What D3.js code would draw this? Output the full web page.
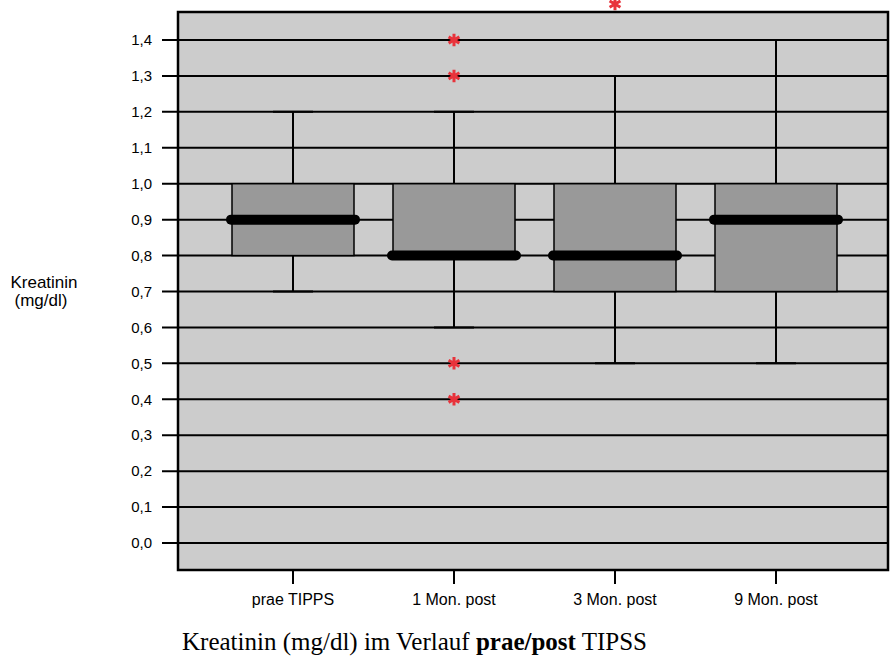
<!DOCTYPE html>
<html>
<head>
<meta charset="utf-8">
<script src="https://cdn.jsdelivr.net/npm/d3@7"></script>
<style>
  html, body { margin: 0; padding: 0; background: #fff; }
  svg { display: block; }
</style>
</head>
<body>
<script>
// Kreatinin box plots per time point
const categories = ["prae TIPPS", "1 Mon. post", "3 Mon. post", "9 Mon. post"];
const whiskerLow  = [0.7, 0.6, 0.5, 0.5];
const quartile1   = [0.8, 0.8, 0.7, 0.7];
const medians     = [0.9, 0.8, 0.8, 0.9];
const quartile3   = [1.0, 1.0, 1.0, 1.0];
const whiskerHigh = [1.2, 1.2, 1.3, 1.4];
const outliers    = [[], [0.4, 0.5, 1.3, 1.4], [1.5], []];
const yTicks      = [0, 0.1, 0.2, 0.3, 0.4, 0.5, 0.6, 0.7, 0.8, 0.9, 1.0, 1.1, 1.2, 1.3, 1.4];

const W = 893, H = 662;
const frame = { left: 178, right: 888, top: 12, bottom: 570 };
const sans = "Liberation Sans, Arial, sans-serif";

const svg = d3.select("body").append("svg").attr("width", W).attr("height", H);

const y = d3.scaleLinear().domain([0, 1.4]).range([543, 40]);
const x = d3.scalePoint().domain(categories).range([293, 776]);

const fmt = d => d3.format(".1f")(d).replace(".", ",");

// plot area
svg.append("rect")
  .attr("x", frame.left).attr("y", frame.top)
  .attr("width", frame.right - frame.left).attr("height", frame.bottom - frame.top)
  .attr("fill", "#cccccc");

// gridlines with outer tick marks
svg.append("g").selectAll("line").data(yTicks).join("line")
  .attr("x1", frame.left - 16).attr("x2", frame.right)
  .attr("y1", d => y(d)).attr("y2", d => y(d))
  .attr("stroke", "#000").attr("stroke-width", 2);

// y tick labels
svg.append("g").selectAll("text").data(yTicks).join("text")
  .attr("x", 152).attr("y", d => y(d))
  .attr("dy", "0.35em").attr("text-anchor", "end")
  .attr("font-family", sans).attr("font-size", 15)
  .text(fmt);

// boxes
const boxW = 122, capW = 40;
const g = svg.append("g").selectAll("g").data(categories).join("g");

g.append("line")
  .attr("x1", d => x(d)).attr("x2", d => x(d))
  .attr("y1", (d, i) => y(whiskerLow[i])).attr("y2", (d, i) => y(quartile1[i]))
  .attr("stroke", "#000").attr("stroke-width", 2);
g.append("line")
  .attr("x1", d => x(d)).attr("x2", d => x(d))
  .attr("y1", (d, i) => y(quartile3[i])).attr("y2", (d, i) => y(whiskerHigh[i]))
  .attr("stroke", "#000").attr("stroke-width", 2);
g.append("line")
  .attr("x1", d => x(d) - capW / 2).attr("x2", d => x(d) + capW / 2)
  .attr("y1", (d, i) => y(whiskerLow[i])).attr("y2", (d, i) => y(whiskerLow[i]))
  .attr("stroke", "#000").attr("stroke-width", 2);
g.append("line")
  .attr("x1", d => x(d) - capW / 2).attr("x2", d => x(d) + capW / 2)
  .attr("y1", (d, i) => y(whiskerHigh[i])).attr("y2", (d, i) => y(whiskerHigh[i]))
  .attr("stroke", "#000").attr("stroke-width", 2);

g.append("rect")
  .attr("x", d => x(d) - boxW / 2).attr("width", boxW)
  .attr("y", (d, i) => y(quartile3[i]))
  .attr("height", (d, i) => y(quartile1[i]) - y(quartile3[i]))
  .attr("fill", "#999999").attr("stroke", "#000").attr("stroke-width", 1.5);

g.append("line")
  .attr("x1", d => x(d) - boxW / 2 - 1).attr("x2", d => x(d) + boxW / 2 + 1)
  .attr("y1", (d, i) => y(medians[i])).attr("y2", (d, i) => y(medians[i]))
  .attr("stroke", "#000").attr("stroke-width", 10).attr("stroke-linecap", "round");

// outliers
const star = d3.symbol().type(d3.symbolAsterisk).size(110);
g.each(function (d, i) {
  d3.select(this).selectAll("path.out").data(outliers[i]).join("path")
    .attr("class", "out")
    .attr("transform", v => `translate(${x(d)},${y(v)})`)
    .attr("d", star)
    .attr("fill", "none").attr("stroke", "#e8333b").attr("stroke-width", 3);
});

// frame
svg.append("rect")
  .attr("x", frame.left).attr("y", frame.top)
  .attr("width", frame.right - frame.left).attr("height", frame.bottom - frame.top)
  .attr("fill", "none").attr("stroke", "#000").attr("stroke-width", 2.5);

// x ticks and labels
svg.append("g").selectAll("line").data(categories).join("line")
  .attr("x1", d => x(d)).attr("x2", d => x(d))
  .attr("y1", frame.bottom).attr("y2", frame.bottom + 14)
  .attr("stroke", "#000").attr("stroke-width", 2);
svg.append("g").selectAll("text").data(categories).join("text")
  .attr("x", d => x(d)).attr("y", 605).attr("text-anchor", "middle")
  .attr("font-family", sans).attr("font-size", 16)
  .text(d => d);

// y axis title, two lines
const yt = svg.append("g").attr("text-anchor", "middle")
  .attr("font-family", sans).attr("font-size", 17);
yt.append("text").attr("x", 44).attr("y", 288).text("Kreatinin");
yt.append("text").attr("x", 41).attr("y", 306).text("(mg/dl)");

// caption
const cap = svg.append("text").attr("x", 182).attr("y", 650)
  .attr("font-family", "Liberation Serif, Times New Roman, serif").attr("font-size", 25);
cap.append("tspan").text("Kreatinin (mg/dl) im Verlauf ");
cap.append("tspan").attr("font-weight", "bold").text("prae/post");
cap.append("tspan").text(" TIPSS");
</script>
</body>
</html>
